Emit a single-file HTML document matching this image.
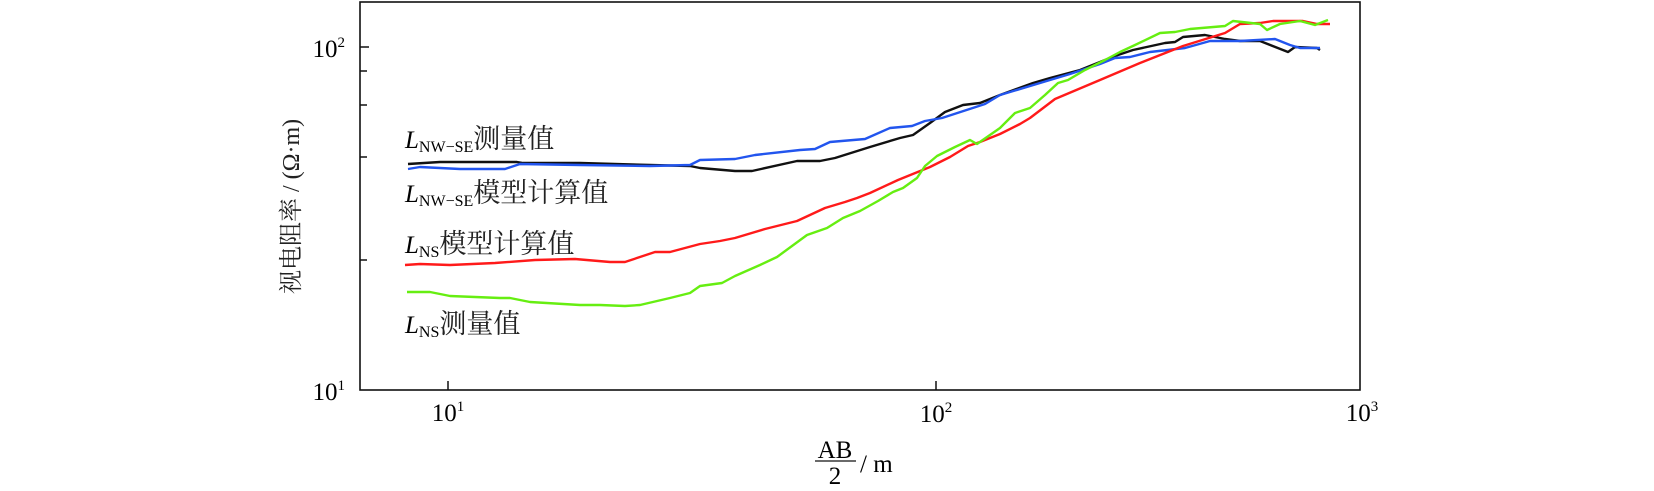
<!DOCTYPE html>
<html><head><meta charset="utf-8"><style>
body{margin:0;background:#fff}
svg{display:block}
text{font-family:"Liberation Serif","Noto Serif CJK SC",serif;fill:#000}
.cj{font-family:"Liberation Serif","Noto Serif CJK SC",serif;fill:#222}
</style></head><body>
<svg width="1654" height="491" viewBox="0 0 1654 491" xmlns="http://www.w3.org/2000/svg">
<rect x="360" y="2" width="1000" height="388" fill="none" stroke="#111" stroke-width="1.6"/>
<g stroke="#111" stroke-width="1.5">
<line x1="360" y1="47" x2="369" y2="47"/><line x1="360" y1="71" x2="367" y2="71"/>
<line x1="360" y1="105" x2="367" y2="105"/><line x1="360" y1="157" x2="367" y2="157"/>
<line x1="360" y1="260" x2="367" y2="260"/>
<line x1="448" y1="390" x2="448" y2="381"/><line x1="936" y1="390" x2="936" y2="381"/>
</g>
<g font-size="25">
<text x="345" y="57" text-anchor="end">10<tspan font-size="15" dy="-10">2</tspan></text>
<text x="345" y="400" text-anchor="end">10<tspan font-size="15" dy="-10">1</tspan></text>
<text x="448" y="421" text-anchor="middle">10<tspan font-size="15" dy="-10">1</tspan></text>
<text x="936" y="422" text-anchor="middle">10<tspan font-size="15" dy="-10">2</tspan></text>
<text x="1362" y="421" text-anchor="middle">10<tspan font-size="15" dy="-10">3</tspan></text>
</g>
<g font-size="25">
<text x="835" y="458" text-anchor="middle">AB</text>
<line x1="815" y1="461" x2="856" y2="461" stroke="#111" stroke-width="1.3"/>
<text x="835" y="484" text-anchor="middle">2</text>
<text x="860" y="472">/ m</text>
</g>
<text class="cj" font-size="24" transform="translate(299,294) rotate(-90)">视电阻率 / (Ω·m)</text>
<g font-size="25">
<text x="405" y="148"><tspan font-style="italic">L</tspan><tspan font-size="16" dy="4">NW−SE</tspan><tspan class="cj" font-size="27" dy="-4">测量值</tspan></text>
<text x="405" y="202"><tspan font-style="italic">L</tspan><tspan font-size="16" dy="4">NW−SE</tspan><tspan class="cj" font-size="27" dy="-4">模型计算值</tspan></text>
<text x="405" y="253"><tspan font-style="italic">L</tspan><tspan font-size="16" dy="4">NS</tspan><tspan class="cj" font-size="27" dy="-4">模型计算值</tspan></text>
<text x="405" y="333"><tspan font-style="italic">L</tspan><tspan font-size="16" dy="4">NS</tspan><tspan class="cj" font-size="27" dy="-4">测量值</tspan></text>
</g>
<g fill="none" stroke-width="2.4" stroke-linejoin="round">
<polyline stroke="#111" points="408,164 440,162 517,162 523,163 580,163 650,165 690,166 700,168 735,171 752,171 797,161 820,161 835,158 870,147 900,138 913,135 930,123 945,112 963,105 980,103 1000,95 1033,83 1050,78 1080,70 1115,56 1133,50 1165,43 1175,42 1183,37 1205,35 1225,39 1240,41 1260,41 1288,52 1295,47 1317,48 1320,50"/>
<polyline stroke="#2255ee" points="408,169 420,167 460,169 505,169 520,164 580,165 650,166 690,165 700,160 735,159 755,155 800,150 815,149 830,142 865,139 890,128 912,126 925,121 942,118 985,104 1000,95 1050,80 1070,74 1100,64 1115,58 1130,57 1150,52 1185,48 1210,41 1240,41 1275,39 1290,45 1300,48 1320,48"/>
<polyline stroke="#ff1a1a" points="405,265 420,264 450,265 495,263 535,260 575,259 610,262 625,262 655,252 670,252 700,244 720,241 735,238 765,229 797,221 825,208 845,202 857,198 870,193 898,180 930,167 950,157 968,146 980,142 1000,134 1020,124 1030,118 1055,99 1100,80 1140,63 1183,46 1225,33 1240,24 1260,23 1273,21 1303,21 1317,24 1330,24"/>
<polyline stroke="#66ee11" points="407,292 430,292 450,296 500,298 510,298 530,302 580,305 600,305 625,306 640,305 670,298 690,293 700,286 722,283 735,276 760,265 777,257 807,235 827,228 843,218 860,211 878,201 893,192 903,188 917,178 925,166 937,156 955,147 970,140 977,144 1000,128 1015,113 1030,108 1045,95 1058,83 1068,80 1085,70 1105,60 1120,52 1135,45 1160,33 1175,32 1190,29 1225,26 1233,21 1260,24 1267,30 1280,24 1300,21 1315,25 1328,20"/>
</g>
</svg>
</body></html>
